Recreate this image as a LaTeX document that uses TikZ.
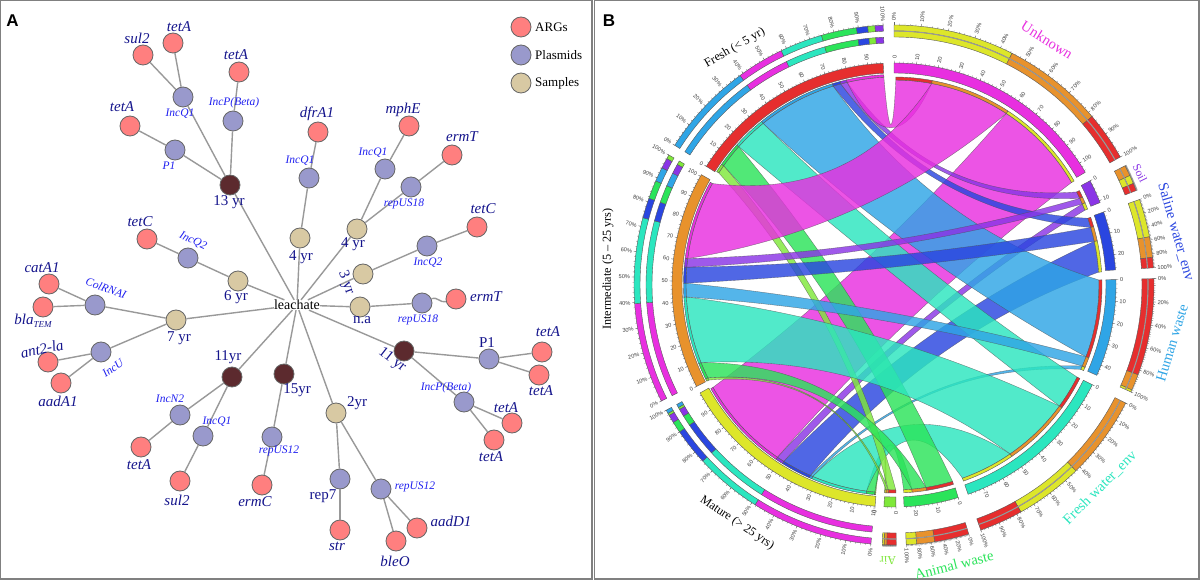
\documentclass[tikz,border=0pt]{standalone}
\usepackage{fontspec}
\usetikzlibrary{calc}
\setmainfont{Liberation Serif}
\newfontfamily\sanslab{Liberation Sans}
\definecolor{cred}{HTML}{E62E2E}
\definecolor{corg}{HTML}{E8922C}
\definecolor{cyel}{HTML}{DDE62A}
\definecolor{cmag}{HTML}{E82FE0}
\definecolor{cpur}{HTML}{8A35E6}
\definecolor{cblu}{HTML}{2A46E0}
\definecolor{clbl}{HTML}{2FA5E6}
\definecolor{ctur}{HTML}{2BE6BF}
\definecolor{cgrn}{HTML}{2BE45A}
\definecolor{clgn}{HTML}{7FE83A}
\definecolor{navy}{HTML}{14148C}
\definecolor{plas}{HTML}{2020F0}
\newcount\tlc
\tikzset{
  x=1pt,y=-1pt,
  secb/.style={draw=black!65,line width=.4pt},
  rib/.style={draw=black!70,draw opacity=.7,line width=.35pt,fill opacity=.82},
  tk/.style={draw=black!60,line width=.3pt},
  tlab/.style={font=\sanslab\fontsize{5.6}{7}\selectfont,text=black!75,inner sep=0pt},
  edge/.style={draw=black!40,line width=1.4pt},
  vnode/.style={circle,draw=black!60,line width=.8pt,minimum size=20pt,inner sep=0pt},
  argl/.style={font=\fontsize{15}{16}\selectfont\itshape,text=navy,inner sep=0pt},
  pll/.style={font=\fontsize{11.5}{12}\selectfont\itshape,text=plas,inner sep=0pt},
  yrl/.style={font=\fontsize{15}{16}\selectfont,text=navy,inner sep=0pt},
  lgl/.style={font=\fontsize{13}{14}\selectfont,anchor=west,inner sep=0pt},
  big/.style={font=\fontsize{14.6}{16}\selectfont,inner sep=0pt},
  sml/.style={font=\fontsize{12.2}{14}\selectfont,inner sep=0pt},
  frame/.style={draw=black!50,line width=1.4pt},
  pan/.style={font=\sanslab\bfseries\fontsize{17}{18}\selectfont,inner sep=0pt},
}
\definecolor{argc}{HTML}{FF7F7F}
\definecolor{plasc}{HTML}{9999CC}
\definecolor{samc}{HTML}{D8C9A3}
\definecolor{darkc}{HTML}{5C2A2E}
\newcommand\annsec[5]{\draw[secb,fill=#1] (#2:#5) arc[start angle=#2,end angle=#3,radius=#5] -- (#3:#4) arc[start angle=#3,end angle=#2,radius=#4] -- cycle;}
\newcommand\lnk[7]{%
  \pgfmathsetmacro\rmn{min(#4,#7)}%
  \pgfmathsetmacro\cxA{.28*\rmn*(cos(#3)+cos(#5))}%
  \pgfmathsetmacro\cyA{.28*\rmn*(sin(#3)+sin(#5))}%
  \pgfmathsetmacro\cxB{.28*\rmn*(cos(#6)+cos(#2))}%
  \pgfmathsetmacro\cyB{.28*\rmn*(sin(#6)+sin(#2))}%
  \path[rib,fill=#1] (#2:#4) arc[start angle=#2,end angle=#3,radius=#4]
    .. controls ($(#3:#4)!.6667!(\cxA,\cyA)$) and ($(#5:#7)!.6667!(\cxA,\cyA)$) .. (#5:#7)
    arc[start angle=#5,end angle=#6,radius=#7]
    .. controls ($(#6:#7)!.6667!(\cxB,\cyB)$) and ($(#2:#4)!.6667!(\cxB,\cyB)$) .. cycle;}
\newcommand\slink[6]{%
  \lnk{#1}{#2}{#3}{208}{#4}{#5}{205}%
  \annsec{#1}{#2}{#3}{208}{210.5}%
  \annsec{#6}{#4}{#5}{205}{208}}
\newcommand\radlab[3]{%
  \pgfmathtruncatemacro\isr{cos(#1)>=0?1:0}%
  \global\advance\tlc by 1
  \ifnum\isr=1
    \node[tlab,anchor=west,rotate=#1] (tl\the\tlc) at (#1:#2) {#3};
  \else
    \pgfmathsetmacro\rotv{#1+180}%
    \node[tlab,anchor=east,rotate=\rotv] (tl\the\tlc) at (#1:#2) {#3};
  \fi}
\newcommand\mtick[3]{%
  \foreach \u in {0,2,...,#2}{%
    \pgfmathsetmacro\ang{#1-\u*.565}%
    \draw[tk] (\ang:222) -- (\ang:223.5);}%
  \foreach \u in {0,10,...,#3}{%
    \pgfmathsetmacro\ang{#1-\u*.565}%
    \draw[tk] (\ang:222) -- (\ang:224.5);
    \radlab{\ang}{226}{\u}}}
\newcommand\ptick[2]{%
  \foreach \u in {0,2,...,100}{%
    \pgfmathsetmacro\ang{#1+(#2-#1)*\u/100}%
    \draw[tk] (\ang:260) -- (\ang:261.5);}}
\newcommand\plab[3]{%
  \foreach \u in {0,#3,...,100}{%
    \pgfmathsetmacro\ang{#1+(#2-#1)*\u/100}%
    \draw[tk] (\ang:260) -- (\ang:262.5);
    \radlab{\ang}{264}{\u\%}}}
\begin{document}
\begin{tikzpicture}
\useasboundingbox (0,0) rectangle (1200,585);
\fill[white] (0,0) rectangle (1200,585);
\draw[frame] (0.7,0.7) rectangle (592,579);
\draw[frame] (594.5,0.7) rectangle (1199,579);
\node[pan] (pa) at (12.5,21) {A};
\node[pan] (pb) at (609,21) {B};
% ---------- Panel A ----------
\node[inner sep=0pt,font=\fontsize{14}{15}\selectfont] (leach) at (297,305) {leachate};
\foreach \nm/\px/\py in {a1/143/55,a2/173/43,a3/239/72,a4/130/126,a5/147/239,a6/49/284,a7/43/307,a8/48/362,a9/61/383,a10/141/447,a11/180/481,a12/262/485,a13/318/132,a14/409/126,a15/452/155,a16/477/227,a17/456/299,a18/542/352,a19/539/375,a20/512/423,a21/494/440,a22/340/530,a23/396/541,a24/417/528}
  \node[vnode,fill=argc] (\nm) at (\px,\py) {};
\foreach \nm/\px/\py in {p1/183/97,p2/233/121,p3/175/150,p4/188/258,p5/95/305,p6/101/352,p7/180/415,p8/203/436,p9/272/437,p10/309/178,p11/385/169,p12/411/187,p13/427/246,p14/422/303,p15/489/359,p16/464/402,p17/340/479,p18/381/489}
  \node[vnode,fill=plasc] (\nm) at (\px,\py) {};
\foreach \nm/\px/\py in {s1/238/281,s2/176/320,s3/300/238,s4/357/229,s5/363/274,s6/360/307,s7/336/413}
  \node[vnode,fill=samc] (\nm) at (\px,\py) {};
\foreach \nm/\px/\py in {d1/230/185,d2/232/377,d3/284/374,d4/404/351}
  \node[vnode,fill=darkc] (\nm) at (\px,\py) {};
\foreach \sa/\sb in {leach/d1,d1/p1,d1/p2,d1/p3,p1/a1,p1/a2,p2/a3,p3/a4,leach/s1,s1/p4,p4/a5,leach/s2,s2/p5,s2/p6,p5/a6,p5/a7,p6/a8,p6/a9,leach/d2,d2/p7,d2/p8,p7/a10,p8/a11,leach/d3,d3/p9,p9/a12,leach/s3,s3/p10,p10/a13,leach/s4,s4/p11,s4/p12,p11/a14,p12/a15,leach/s5,s5/p13,p13/a16,leach/s6,s6/p14,leach/d4,d4/p15,d4/p16,p15/a18,p15/a19,p16/a20,p16/a21,leach/s7,s7/p17,s7/p18,p17/a22,p18/a23,p18/a24}
  \draw[edge] (\sa) -- (\sb);
\draw[edge] (p14) to[out=25,in=195] (a17);
\foreach \nm/\px/\py/\tx in {l1/137/38/sul2,l2/179/27/tetA,l3/236/55/tetA,l4/122/107/tetA,l5/140/222/tetC,l6/42/268/catA1,l7/58/401/aadA1,l8/139/465/tetA,l9/177/500/sul2,l10/255/502/ermC,l11/317/114/dfrA1,l12/403/110/mphE,l13/462/137/ermT,l14/483/209/tetC,l15/486/297/ermT,l16/548/332/tetA,l17/541/391/tetA,l18/506/408/tetA,l19/491/457/tetA,l20/337/546/str,l21/395/561/bleO,l22/451/521/aadD1}
  \node[argl] (\nm) at (\px,\py) {\tx};
\node[argl] (l23) at (33,321) {bla\raisebox{-3pt}{\fontsize{9}{9}\selectfont TEM}};
\node[argl,rotate=12] (l24) at (42,349) {ant2-la};
\foreach \nm/\px/\py/\tx in {q1/180/114/IncQ1,q2/234/103/IncP(Beta),q3/169/166/P1,q4/170/399/IncN2,q5/217/422/IncQ1,q6/279/451/repUS12,q7/300/161/IncQ1,q8/373/153/IncQ1,q9/404/204/repUS18,q10/428/263/IncQ2,q11/418/320/repUS18,q12/446/388/IncP(Beta),q13/415/487/repUS12}
  \node[pll] (\nm) at (\px,\py) {\tx};
\node[pll,rotate=-25] (q14) at (193,241) {IncQ2};
\node[pll,rotate=-20] (q15) at (106,288) {ColRNAI};
\node[pll,rotate=35] (q16) at (113,368) {IncU};
\foreach \nm/\px/\py/\tx in {y1/229/202/13 yr,y2/236/297/6 yr,y3/179/338/7 yr,y4/228/357/11yr,y5/297/390/15yr,y6/301/257/4 yr,y7/353/244/4 yr,y8/362/320/n.a,y9/357/403/2yr}
  \node[yrl] (\nm) at (\px,\py) {\tx};
\node[yrl] (y10) at (487,343) {P1};
\node[yrl] (y11) at (323,496) {rep7};
\node[yrl,rotate=-70] (y12) at (346,283) {3 yr};
\node[yrl,rotate=-38] (y13) at (392,360) {11 yr};
\node[vnode,fill=argc] (lg1) at (521,27) {};
\node[vnode,fill=plasc] (lg2) at (521,55) {};
\node[vnode,fill=samc] (lg3) at (521,83) {};
\node[lgl] (lt1) at (535,27) {ARGs};
\node[lgl] (lt2) at (535,55) {Plasmids};
\node[lgl] (lt3) at (535,83) {Samples};
% ---------- Panel B ----------
\begin{scope}[shift={(894,285)},y=1pt]
\slink{clgn}{265}{264.7}{-92.2}{-92.6}{cyel}
\slink{cgrn}{264.7}{262.4}{-85}{-87.3}{cyel}
\slink{ctur}{262.4}{247}{-55.5}{-70.5}{cyel}
\slink{clbl}{247}{246.3}{-23.3}{-24.3}{cyel}
\slink{cblu}{246.3}{238}{12.3}{3.6}{cyel}
\slink{cpur}{238}{235.9}{23.3}{21.4}{cyel}
\slink{cmag}{235.9}{209.5}{56.8}{30}{cyel}
\slink{clgn}{147.4}{145}{-89.5}{-91.6}{cred}
\slink{cgrn}{145}{138.3}{-73.4}{-81}{cred}
\slink{ctur}{138.3}{129}{-26.7}{-36.2}{cred}
\slink{clbl}{129}{107}{1.4}{-20.5}{cred}
\slink{cblu}{107}{104.8}{19}{16.3}{cred}
\slink{cpur}{104.8}{103}{27}{25}{cred}
\slink{cmag}{103}{92.8}{89.5}{79.4}{cred}
\slink{clgn}{207.2}{206.5}{-91.6}{-92.2}{corg}
\slink{cgrn}{206.5}{201.9}{-81}{-85}{corg}
\slink{ctur}{201.9}{183.3}{-36.2}{-55.5}{corg}
\slink{clbl}{183.3}{179.5}{-20.5}{-23.3}{corg}
\slink{cblu}{179.5}{175.1}{16.3}{12.3}{corg}
\slink{cpur}{175.1}{172.7}{25}{23.3}{corg}
\slink{cmag}{172.7}{150.8}{79.4}{56.8}{corg}
\annsec{cred}{147.7}{92.8}{212}{222}
\annsec{corg}{207.2}{150.2}{212}{222}
\annsec{cyel}{265.1}{209.1}{212}{222}
\annsec{cmag}{90}{30.5}{212}{222}
\annsec{cpur}{28}{21.8}{212}{222}
\annsec{cblu}{19.2}{3.9}{212}{222}
\annsec{clbl}{1.4}{-24}{212}{222}
\annsec{ctur}{-26.7}{-70.5}{212}{222}
\annsec{cgrn}{-73.2}{-87.4}{212}{222}
\annsec{clgn}{-89.5}{-92.6}{212}{222}
\mtick{147.7}{96}{90}
\mtick{207.2}{100}{100}
\mtick{265.1}{98}{90}
\mtick{89.8}{104}{100}
\mtick{28}{10}{10}
\mtick{19.2}{26}{20}
\mtick{1.4}{44}{40}
\mtick{-26.7}{76}{70}
\mtick{-73.2}{24}{20}
\mtick{-89.5}{4}{0}
\foreach \cc/\s/\e in {clbl/147.5/126.3,cmag/126.3/115.7,ctur/115.7/106.2,cgrn/106.2/98.3,cblu/98.3/95.8,clgn/95.8/94.2,cpur/94.2/92.4}
  {\annsec{\cc}{\s}{\e}{254}{260}\annsec{\cc}{\s}{\e}{242}{248}}
\foreach \cc/\s/\e in {cmag/206.5/184.1,ctur/184.1/165,cblu/165/160.5,cgrn/160.5/156.4,clbl/156.4/153.2,cpur/153.2/150.9,clgn/150.9/150}
  {\annsec{\cc}{\s}{\e}{254}{260}\annsec{\cc}{\s}{\e}{242}{248}}
\foreach \cc/\s/\e in {cmag/264.9/237.7,ctur/237.7/222.6,cblu/222.6/214.4,cgrn/214.4/211.9,cpur/211.9/210.1,clgn/210.1/209.6,clbl/209.6/208.8}
  {\annsec{\cc}{\s}{\e}{254}{260}\annsec{\cc}{\s}{\e}{242}{248}}
\foreach \cc/\s/\e in {cyel/90/63,corg/63/40.4,cred/40.4/29.5,corg/27.3/24.9,cyel/24.9/23,cred/23/21.3,cyel/19.2/10.7,corg/10.7/6.1,cred/6.1/3.8,cred/1.4/-20.2,corg/-20.2/-23.8,cyel/-23.8/-24.3,corg/-27/-45.6,cyel/-45.6/-60.8,cred/-60.8/-70.5,cred/-73.3/-81,corg/-81/-85,cyel/-85/-87.3,cred/-89.5/-91.6,corg/-91.6/-92.2,cyel/-92.2/-92.6}
  {\annsec{\cc}{\s}{\e}{254}{260}\annsec{\cc}{\s}{\e}{248}{254}}
\foreach \s/\e in {90/29.5,27.3/21.3,19.2/3.8,1.4/-24.3,-27/-70.5,-73.3/-87.3,-89.5/-92.6}
  \draw[draw=black!40,line width=1.1pt] (\s:254) arc[start angle=\s,end angle=\e,radius=254];
\ptick{147.5}{92.4}\plab{147.5}{92.4}{10}
\ptick{206.5}{150}\plab{206.5}{150}{10}
\ptick{264.9}{208.8}\plab{264.9}{208.8}{10}
\ptick{90}{29.5}\plab{90}{29.5}{10}
\ptick{27.3}{21.3}
\ptick{19.2}{3.8}\plab{19.2}{3.8}{20}
\ptick{1.4}{-24.3}\plab{1.4}{-24.3}{20}
\ptick{-27}{-70.5}\plab{-27}{-70.5}{10}
\ptick{-73.3}{-87.3}\plab{-73.3}{-87.3}{20}
\ptick{-89.5}{-92.6}
\end{scope}
\node[big,text=cmag,rotate=-32] (n1) at (1047,40) {Unknown};
\node[text=cpur,rotate=-64,inner sep=0pt,font=\fontsize{11.6}{13}\selectfont] (n2) at (1140,173) {Soil};
\node[big,text=cblu,rotate=-74] (n3) at (1176,232) {Saline water\_env};
\node[big,text=clbl,rotate=73] (n4) at (1172,343) {Human waste};
\node[big,text=ctur,rotate=45] (n5) at (1100,488) {Fresh water\_env};
\node[big,text=cgrn,rotate=14] (n6) at (954,565) {Animal waste};
\node[sml,text=clgn,rotate=180] (n7) at (888,561) {Air};
\node[sml,rotate=-34] (n8) at (737,523) {Mature (> 25 yrs)};
\node[sml,rotate=90] (n9) at (608,269) {Intermediate (5 – 25 yrs)};
\node[sml,rotate=30] (n10) at (735,48) {Fresh (< 5 yr)};
\end{tikzpicture}
\end{document}
